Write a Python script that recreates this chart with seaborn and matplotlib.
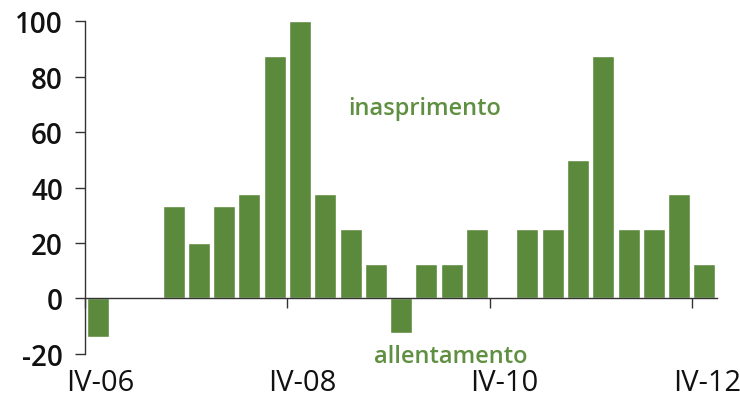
import numpy as np
import pandas as pd
import matplotlib
matplotlib.use("Agg")
import matplotlib.pyplot as plt
import matplotlib.transforms as mtransforms
import seaborn as sns

# --- DATA ---
quarters = ["IV-06", "I-07", "II-07", "III-07", "IV-07",
            "I-08", "II-08", "III-08", "IV-08",
            "I-09", "II-09", "III-09", "IV-09",
            "I-10", "II-10", "III-10", "IV-10",
            "I-11", "II-11", "III-11", "IV-11",
            "I-12", "II-12", "III-12", "IV-12"]
values = [-14, 0, 0, 33.3, 20, 33.3, 37.5, 87.5, 100,
          37.5, 25, 12.5, -12.5, 12.5, 12.5, 25, 0,
          25, 25, 50, 87.5, 25, 25, 37.5, 12.5]
shown_labels = ["IV-06", "IV-08", "IV-10", "IV-12"]
y_ticks = [-20, 0, 20, 40, 60, 80, 100]

BAR_COLOR = "#5b8a3c"
TEXT_GREEN = "#5f8f40"

sns.set_theme(style="white")
plt.rcParams['font.family'] = ['Open Sans', 'DejaVu Sans']

df = pd.DataFrame({"quarter": quarters, "value": values})

fig = plt.figure(figsize=(7.4, 4.02), dpi=100)
ax = fig.add_axes([0.115, 0.117, 0.854, 0.828])

sns.barplot(data=df, x="quarter", y="value", order=quarters,
            color=BAR_COLOR, saturation=1, width=0.87, ax=ax)

ax.set_xlim(-0.5, len(quarters) - 0.5)
ax.set_ylim(-20, 100)
ax.set_xlabel("")
ax.set_ylabel("")

# spines
for s in ["top", "right"]:
    ax.spines[s].set_visible(False)
ax.spines["left"].set_color("#333333")
ax.spines["left"].set_linewidth(1.0)
ax.spines["bottom"].set_position(("data", 0))
ax.spines["bottom"].set_color("#333333")
ax.spines["bottom"].set_linewidth(1.0)

# y ticks
ax.set_yticks(y_ticks)
ax.set_yticklabels([str(v) for v in y_ticks], fontweight="semibold")
ax.tick_params(axis="y", direction="out", length=7, width=1, color="#333333",
               labelsize=20, labelcolor="#111111", pad=9, left=True)

# x ticks: marks at quarter boundaries, labels placed under the plot
idx = [quarters.index(q) for q in shown_labels]
ax.set_xticks([i - 0.5 for i in idx])
ax.set_xticklabels([])
ax.tick_params(axis="x", direction="out", length=7, width=1, color="#333333", bottom=True)

trans = mtransforms.blended_transform_factory(ax.transData, ax.transAxes)
for i, lab in zip(idx, shown_labels):
    ax.text(i + 0.1, -0.085, lab, transform=trans, ha="center", va="center",
            fontsize=21, color="#111111")

ax.text(12.95, 0.74, "inasprimento", transform=trans, ha="center", va="center",
        fontsize=17, fontweight="semibold", color=TEXT_GREEN)
ax.text(13.95, -0.005, "allentamento", transform=trans, ha="center", va="center",
        fontsize=17, fontweight="semibold", color=TEXT_GREEN)

ax.grid(False)
fig.savefig("out.png", dpi=100)
